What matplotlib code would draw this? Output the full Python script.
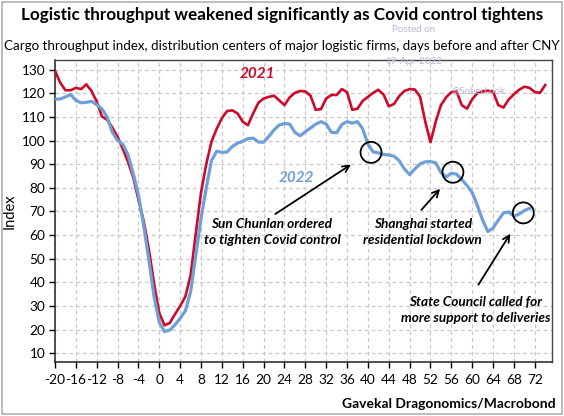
import matplotlib
matplotlib.use("Agg")
import matplotlib.pyplot as plt
from matplotlib.patches import Ellipse, Rectangle
import numpy as np

# ---- data ----
days_2021 = list(range(-20, 75))
idx_2021 = [129.5, 124.5, 121.3, 121.3, 122.3, 121.8, 123.8, 121.0, 116.5, 110.2,
            108.8, 105.5, 101.6, 96.5, 91.0, 84.5, 75.0, 66.0, 54.0, 39.5,
            27.0, 21.8, 22.8, 26.5, 30.0, 34.0, 43.0, 60.8, 78.0, 90.0,
            99.5, 105.0, 109.5, 112.5, 112.8, 111.5, 108.0, 106.5, 111.5, 116.0,
            117.8, 118.5, 119.0, 117.0, 115.0, 118.3, 120.2, 121.0, 120.8, 119.0,
            113.0, 113.3, 117.8, 119.3, 119.3, 121.8, 120.5, 113.0, 113.5, 116.8,
            118.5, 120.2, 121.5, 119.5, 114.5, 115.5, 118.8, 121.0, 121.8, 121.6,
            118.6, 108.0, 99.3, 108.0, 115.0, 118.3, 120.5, 120.8, 115.0, 113.5,
            117.5, 120.1, 120.8, 121.1, 120.7, 115.0, 114.0, 117.4, 119.6, 121.5,
            122.8, 122.3, 120.5, 120.2, 123.5]
days_2022 = list(range(-20, 72))
idx_2022 = [117.5, 117.6, 118.5, 119.5, 117.0, 116.0, 116.2, 116.6, 115.2, 113.4,
            110.0, 103.5, 100.0, 98.5, 94.0, 86.0, 77.0, 64.0, 49.5, 34.0,
            23.0, 19.2, 19.8, 22.0, 24.8, 28.0, 36.0, 51.5, 67.0, 80.0,
            91.5, 95.5, 95.0, 95.2, 97.5, 98.9, 99.7, 100.8, 101.0, 99.4,
            99.3, 101.8, 104.5, 106.6, 107.2, 107.0, 103.5, 102.0, 103.8, 105.3,
            107.0, 108.0, 107.0, 103.5, 103.3, 106.8, 108.0, 107.4, 108.0, 105.0,
            98.5, 95.2, 94.8, 94.1, 93.9, 93.4, 91.5, 88.0, 85.6, 88.0,
            90.1, 91.0, 91.1, 90.6, 86.5, 84.6, 86.2, 85.8, 83.5, 81.0,
            78.0, 72.5, 66.3, 61.5, 63.0, 66.3, 69.4, 69.8, 68.0, 68.9,
            70.4, 71.3]
x_ticks = list(range(-20, 73, 4))
y_ticks = list(range(10, 131, 10))
circle_days = [40.6, 56.3, 69.8]
circle_vals = [95.0, 86.6, 69.4]

RED = "#cc0a2a"
BLUE = "#6f9fd6"

plt.rcParams['font.family'] = ['Lato', 'DejaVu Sans']
plt.rcParams['axes.unicode_minus'] = False

fig = plt.figure(figsize=(5.64, 4.16), dpi=100)
# outer border
fig.patches.append(Rectangle((0.004, 0.004), 0.992, 0.992, transform=fig.transFigure,
                             fill=False, edgecolor="#b0b0b0", linewidth=1.2))

ax = fig.add_axes([55/564, 1 - 362/416, (552-55)/564, (362-60)/416])

ax.plot(days_2021, idx_2021, color=RED, lw=1.9, solid_joinstyle='round', zorder=3)
ax.plot(days_2022, idx_2022, color=BLUE, lw=2.3, solid_joinstyle='round', zorder=4)

ax.set_xlim(-20, 75.3)
ax.set_ylim(6.3, 134.1)
ax.set_xticks(x_ticks)
ax.set_yticks(y_ticks)
ax.tick_params(axis='both', direction='out', length=4, width=1, labelsize=9.8,
               colors='black', pad=3)
ax.tick_params(axis='x', pad=5)
ax.grid(True, color="#c8c8c8", linestyle=(0, (3, 2.5)), linewidth=0.9)
ax.set_axisbelow(True)
for s in ['left', 'bottom']:
    ax.spines[s].set_color('#222222')
    ax.spines[s].set_linewidth(1.1)
for s in ['top', 'right']:
    ax.spines[s].set_color('#444444')
    ax.spines[s].set_linewidth(1.0)
ax.set_ylabel("Index", fontsize=10.5)
ax.yaxis.set_label_coords(-0.078, 0.5)

# circles (in display pixels via ellipse in data coords)
x_per_px = (75.3 + 20) / (552 - 55)
y_per_px = (134.1 - 6.3) / (362 - 60)
for cd, cv in zip(circle_days, circle_vals):
    ax.add_patch(Ellipse((cd, cv), width=21 * x_per_px, height=21 * y_per_px,
                         fill=False, edgecolor='black', lw=1.3, zorder=5))

# labels
ax.text(18.8, 128.0, "2021", color=RED, fontsize=11, fontstyle='italic',
        fontweight='bold', ha='center', va='center')
ax.text(26.3, 84.1, "2022", color=BLUE, fontsize=11, fontstyle='italic',
        fontweight='bold', ha='center', va='center')

ann_kw = dict(fontsize=9.8, fontstyle='italic', fontweight='bold', ha='center',
              va='center', linespacing=1.35)
ax.text(21.6, 61.3, "Sun Chunlan ordered\nto tighten Covid control", **ann_kw)
ax.text(50.5, 61.3, "Shanghai started\nresidential lockdown", **ann_kw)
ax.text(60.6, 28.3, "State Council called for\nmore support to deliveries", **ann_kw)

arrow_kw = dict(arrowstyle='->', color='black', lw=1.3, mutation_scale=12)
ax.annotate("", xy=(37.2, 90.5), xytext=(21.8, 68.3), arrowprops=arrow_kw)
ax.annotate("", xy=(54.2, 80.5), xytext=(49.9, 69.8), arrowprops=arrow_kw)
ax.annotate("", xy=(67.6, 61.6), xytext=(60.9, 38.0), arrowprops=arrow_kw)

# titles
fig.text(0.5, 1 - 15/416, "Logistic throughput weakened significantly as Covid control tightens",
         ha='center', va='center', fontsize=12.3, fontweight='bold')
fig.text(0.5, 1 - 46/416,
         "Cargo throughput index, distribution centers of major logistic firms, days before and after CNY",
         ha='center', va='center', fontsize=9.6)
fig.text(556/564, 1 - 404/416, "Gavekal Dragonomics/Macrobond", ha='right', va='center',
         fontsize=10, fontweight='bold')

# faint watermark
wm = dict(color='#b8b8d8', fontsize=7, ha='center', va='center', zorder=0)
fig.text(414/564, 1 - 29/416, "Posted on", **wm)
fig.text(414/564, 1 - 62/416, "19-Apr-2022", **wm)
fig.text(478/564, 1 - 91/416, "@SoberLook", **wm)

fig.savefig("out.png", dpi=100)
